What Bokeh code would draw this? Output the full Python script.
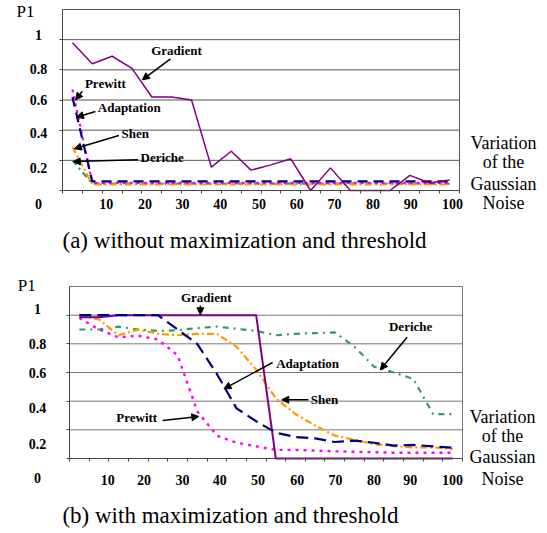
from bokeh.plotting import figure
from bokeh.models import Label, Arrow, NormalHead, FixedTicker, Range1d
from bokeh.layouts import column
from bokeh.embed import file_html
from bokeh.resources import INLINE

# ---------------- data ----------------
noise = [2.5, 7.5, 12.5, 17.5, 22.5, 27.5, 32.5, 37.5, 42.5, 47.5,
         52.5, 57.5, 62.5, 67.5, 72.5, 77.5, 82.5, 87.5, 92.5, 97.5]

# (a) without maximization and threshold
gradient_a = [0.98, 0.84, 0.89, 0.81, 0.62, 0.62, 0.60, 0.155, 0.26, 0.135,
              0.17, 0.21, 0.0, 0.15, 0.0, 0.0, 0.0, 0.10, 0.05, 0.07]
prewitt_a = [0.67, 0.05, 0.05, 0.05, 0.05, 0.05, 0.05, 0.05, 0.05, 0.05,
             0.05, 0.05, 0.05, 0.05, 0.05, 0.05, 0.05, 0.05, 0.05, 0.05]
adaptation_a = [0.62, 0.06, 0.06, 0.06, 0.06, 0.06, 0.06, 0.06, 0.06, 0.06,
                0.06, 0.06, 0.06, 0.06, 0.06, 0.06, 0.06, 0.06, 0.06, 0.06]
shen_a = [0.29, 0.04, 0.04, 0.04, 0.04, 0.04, 0.04, 0.04, 0.04, 0.04,
          0.04, 0.04, 0.04, 0.04, 0.04, 0.04, 0.04, 0.04, 0.04, 0.04]
deriche_a = [0.2, 0.045, 0.045, 0.045, 0.045, 0.045, 0.045, 0.045, 0.045, 0.045,
             0.045, 0.045, 0.045, 0.045, 0.045, 0.045, 0.045, 0.045, 0.045, 0.045]

# (b) with maximization and threshold
gradient_b = [0.985, 0.985, 1.0, 1.0, 1.0, 1.0, 1.0, 1.0, 1.0, 1.0,
              0.0, 0.0, 0.0, 0.0, 0.0, 0.0, 0.0, 0.0, 0.0, 0.0]
prewitt_b = [0.98, 0.9, 0.845, 0.857, 0.83, 0.72, 0.33, 0.16, 0.11, 0.085,
             0.06, 0.06, 0.055, 0.05, 0.047, 0.044, 0.04, 0.04, 0.04, 0.04]
adaptation_b = [1.0, 1.0, 1.0, 1.0, 1.0, 0.9, 0.8, 0.59, 0.35, 0.26,
                0.18, 0.15, 0.14, 0.115, 0.125, 0.11, 0.09, 0.095, 0.085, 0.075]
shen_b = [1.0, 0.97, 0.86, 0.9, 0.87, 0.86, 0.87, 0.87, 0.78, 0.62,
          0.42, 0.31, 0.23, 0.16, 0.13, 0.1, 0.087, 0.077, 0.078, 0.066]
deriche_b = [0.9, 0.9, 0.92, 0.9, 0.89, 0.895, 0.91, 0.92, 0.905, 0.89,
             0.86, 0.87, 0.875, 0.88, 0.78, 0.64, 0.6, 0.555, 0.31, 0.31]

y_ticks = [0, 0.2, 0.4, 0.6, 0.8, 1.0]
y_tick_labels = ["0", "0.2", "0.4", "0.6", "0.8", "1"]
x_ticks = [0, 5, 10, 15, 20, 25, 30, 35, 40, 45, 50, 55, 60, 65, 70, 75, 80, 85, 90, 95, 100]
x_label_values = [10, 20, 30, 40, 50, 60, 70, 80, 90, 100]
x_tick_labels = ["10", "20", "30", "40", "50", "60", "70", "80", "90", "100"]
grid_lines = [0.2, 0.4, 0.6, 0.8, 1.0, 1.2]
x_min, x_max = 0, 100
y_min, y_max = 0, 1.2

x_title_lines = ["Variation", "of the", "Gaussian", "Noise"]
caption_a = "(a) without maximization and threshold"
caption_b = "(b) with maximization and threshold"

SERIF = "'Liberation Serif', 'Times New Roman', serif"
C_GRAD = "#800080"
C_PREW = "#FF00FF"
C_ADAP = "#000080"
C_SHEN = "#FF9900"
C_DER = "#339966"

W = 547


def tick_label(p, x, y, text, xo=0, yo=0):
    p.add_layout(Label(x=x, y=y, x_offset=xo, y_offset=yo, text=text, text_font=SERIF,
                       text_font_size="14px", text_font_style="bold",
                       text_align="center", text_baseline="middle", text_color="black"))


def make_fig(height, left_px, right_px, top_px, bottom_px, grid_color,
             ylab_x, ylab_offsets, xlab_offsets, xlab_dy):
    # left_px/right_px: canvas x of x=0 / x=100; top_px/bottom_px: canvas y of y=1.2 / y=0
    sx = (right_px - left_px) / (x_max - x_min)
    sy = (bottom_px - top_px) / (y_max - y_min)
    xr = Range1d(x_min - left_px / sx, x_min + (W - left_px) / sx)
    yr = Range1d(y_min - (height - bottom_px) / sy, y_min + bottom_px / sy)
    p = figure(width=W, height=height, output_backend="svg", toolbar_location=None,
               x_range=xr, y_range=yr, min_border=0)
    p.background_fill_color = "white"
    p.border_fill_color = "white"
    p.outline_line_color = None
    p.xgrid.visible = False
    p.ygrid.visible = False

    # grid lines and right border of the chart area
    n = len(grid_lines)
    p.segment(x0=[x_min] * n, y0=grid_lines, x1=[x_max] * n, y1=grid_lines,
              line_color=grid_color, line_width=1)
    p.segment(x0=[x_max], y0=[y_min], x1=[x_max], y1=[y_max],
              line_color=grid_color, line_width=1)

    p.yaxis.ticker = FixedTicker(ticks=y_ticks)
    p.yaxis.fixed_location = x_min
    p.yaxis.bounds = (y_min, y_max)
    p.xaxis.ticker = FixedTicker(ticks=x_ticks)
    p.xaxis.fixed_location = y_min
    p.xaxis.bounds = (x_min, x_max)
    for ax in (p.xaxis[0], p.yaxis[0]):
        ax.axis_line_color = "#444444"
        ax.major_tick_line_color = "#444444"
        ax.major_tick_out = 3
        ax.major_tick_in = 0
        ax.minor_tick_line_color = None
        ax.major_label_text_font_size = "0px"
        ax.major_label_text_color = None

    # tick labels placed as in the original scan (slightly displaced from the ticks)
    for t, lab, off in zip(y_ticks, y_tick_labels, ylab_offsets):
        tick_label(p, ylab_x, t, lab, yo=off)
    for v, lab, off in zip(x_label_values, x_tick_labels, xlab_offsets):
        tick_label(p, v, y_min, lab, xo=off, yo=xlab_dy)
    return p


def add_text(p, x, y, text, size="13px", style="bold", align="center", baseline="middle"):
    p.add_layout(Label(x=x, y=y, text=text, text_font=SERIF, text_font_size=size,
                       text_font_style=style, text_align=align, text_baseline=baseline,
                       text_color="black"))


def add_arrow(p, x0, y0, x1, y1):
    p.add_layout(Arrow(x_start=x0, y_start=y0, x_end=x1, y_end=y1,
                       line_color="black", line_width=1.5,
                       end=NormalHead(size=7, fill_color="black", line_color="black")))


# ---------------- chart (a) ----------------
pa = make_fig(262, 62, 459, 9, 190, "#555555", -6.05, [-13, -8, -3, 0, 1, 5],
              [4, 3, 1, -1, -2, -4, -6, -7, -9, -7], -13)
pa.line(noise, deriche_a, line_color=C_DER, line_width=2.2, line_dash="6 4 2 4")
pa.line(noise, shen_a, line_color=C_SHEN, line_width=2.2, line_dash="7 3 2 3")
pa.line(noise, prewitt_a, line_color=C_PREW, line_width=2.2, line_dash="3 4")
pa.line(noise, adaptation_a, line_color=C_ADAP, line_width=2.2, line_dash="10 6")
pa.line(noise, gradient_a, line_color=C_GRAD, line_width=1.5)

add_text(pa, 28.7, 0.928, "Gradient")
add_arrow(pa, 27.2, 0.873, 20.1, 0.734)
add_text(pa, 10.8, 0.707, "Prewitt")
add_arrow(pa, 5.0, 0.658, 3.3, 0.601)
add_text(pa, 16.8, 0.552, "Adaptation")
add_arrow(pa, 8.3, 0.524, 3.5, 0.486)
add_text(pa, 18.3, 0.376, "Shen")
add_arrow(pa, 14.2, 0.365, 3.0, 0.277)
add_text(pa, 25.1, 0.221, "Deriche")
add_arrow(pa, 19.0, 0.204, 2.7, 0.192)

add_text(pa, -9.3, 1.19, "P1", size="17px", style="normal")
for t, yy in zip(x_title_lines, [0.318, 0.186, 0.046, -0.086]):
    add_text(pa, 111.1, yy, t, size="18px", style="normal")
add_text(pa, 0, -0.332, caption_a, size="23px", style="normal", align="left")

# ---------------- chart (b) ----------------
pb = make_fig(271, 69, 462, 24, 196, "#777777", -8.14, [-19, -14, -7, 0, 0, 6],
              [-1, -4, -5, -7, -8, -8, -9, -10, -13, -10], -21)
pb.line(noise, deriche_b, line_color=C_DER, line_width=2.2, line_dash="6 5 2 5")
pb.line(noise, shen_b, line_color=C_SHEN, line_width=2.2, line_dash="7 3 2 3")
pb.line(noise, prewitt_b, line_color=C_PREW, line_width=2.4, line_dash="3 5")
pb.line(noise, gradient_b, line_color=C_GRAD, line_width=2)
pb.line(noise, adaptation_b, line_color=C_ADAP, line_width=2.2, line_dash="12 6")

add_text(pb, 34.8, 1.121, "Gradient")
add_arrow(pb, 33.3, 1.068, 33.3, 1.003)
add_text(pb, 17.1, 0.284, "Prewitt")
add_arrow(pb, 23.7, 0.265, 32.9, 0.293)
add_text(pb, 60.6, 0.665, "Adaptation")
add_arrow(pb, 51.7, 0.67, 39.3, 0.486)
add_text(pb, 64.9, 0.41, "Shen")
add_arrow(pb, 60.8, 0.41, 54.0, 0.41)
add_text(pb, 86.8, 0.921, "Deriche")
add_arrow(pb, 85.9, 0.846, 79.1, 0.619)

add_text(pb, -10.9, 1.207, "P1", size="17px", style="normal")
for t, yy in zip(x_title_lines, [0.293, 0.154, 0.007, -0.14]):
    add_text(pb, 110.2, yy, t, size="18px", style="normal")
add_text(pb, -1.8, -0.398, caption_b, size="23px", style="normal", align="left")

layout = column(pa, pb, spacing=0)
open("out.html", "w").write(file_html(layout, INLINE))
